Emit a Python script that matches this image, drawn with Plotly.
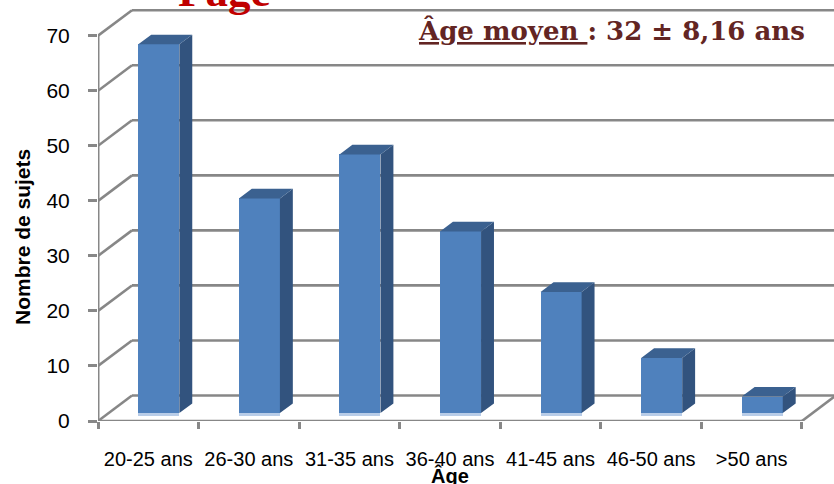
import plotly.graph_objects as go

# ---- data ----
categories = ["20-25 ans", "26-30 ans", "31-35 ans", "36-40 ans", "41-45 ans", "46-50 ans", ">50 ans"]
counts = [67, 39, 47, 33, 22, 10, 3]
y_ticks = [0, 10, 20, 30, 40, 50, 60, 70]
title_text = "Page"
mean_label = "Âge moyen "
mean_value = ": 32 ± 8,16 ans"
y_title = "Nombre de sujets"
x_title = "Âge"

# ---- pseudo-3D geometry (axis units) ----
W, H = 834, 484
ML, MR, MT, MB = 98, 0, 0, 63
px_x = 100.57          # pixels per category
px_y = 5.504           # pixels per count unit
DX = 34 / px_x         # depth offset of back wall
DY = 25.5 / px_y
D0, D1 = 0.31, 0.69    # bar depth span
BW = 0.408             # bar width
n = len(categories)
xs = list(range(n))
xmax = -0.5 + (W - ML - MR) / px_x
ymax = (H - MB - MT) / px_y
GRID = "#878787"
GW = 2.6

front_c = "#4F81BD"
side_c = "#32537E"
top_c = "#3B6190"

fig = go.Figure()

# side and top faces
side_x, side_y, top_x, top_y = [], [], [], []
b0 = D0 * DY
ddx, ddy = (D1 - D0) * DX, (D1 - D0) * DY
for i, v in zip(xs, counts):
    xl = i - BW / 2 + D0 * DX
    xr = xl + BW
    side_x += [xr, xr, xr + ddx, xr + ddx, xr, None]
    side_y += [b0, b0 + v, b0 + v + ddy, b0 + ddy, b0, None]
    top_x += [xl, xr, xr + ddx, xl + ddx, xl, None]
    top_y += [b0 + v, b0 + v, b0 + v + ddy, b0 + v + ddy, b0 + v, None]

fig.add_trace(go.Scatter(x=side_x, y=side_y, fill="toself", fillcolor=side_c,
                         mode="lines", line=dict(width=0, color=side_c),
                         hoverinfo="skip", showlegend=False))
fig.add_trace(go.Scatter(x=top_x, y=top_y, fill="toself", fillcolor=top_c,
                         mode="lines", line=dict(width=0, color=top_c),
                         hoverinfo="skip", showlegend=False))
# light bottom strip
fig.add_trace(go.Bar(x=xs, y=[0.35] * n, base=[b0 - 0.35] * n, width=BW,
                     offset=-BW / 2 + D0 * DX, marker=dict(color="#B9CDE8", line=dict(width=0)),
                     hoverinfo="skip", showlegend=False))
# front faces
fig.add_trace(go.Bar(x=xs, y=counts, base=[b0] * n, width=BW, offset=-BW / 2 + D0 * DX,
                     marker=dict(color=front_c, line=dict(width=0)), showlegend=False,
                     hovertemplate="%{x}: %{y}<extra></extra>"))

shapes = []
# back wall gridlines and left wall diagonals
for t in y_ticks:
    shapes.append(dict(type="line", xref="x", yref="y", x0=-0.5 + DX, x1=xmax + 0.2,
                       y0=t + DY, y1=t + DY, line=dict(color=GRID, width=GW), layer="below"))
    shapes.append(dict(type="line", xref="x", yref="y", x0=-0.5, x1=-0.5 + DX,
                       y0=t, y1=t + DY, line=dict(color=GRID, width=GW), layer="below"))
# front vertical axis
shapes.append(dict(type="line", xref="x", yref="y", x0=-0.5, x1=-0.5, y0=0, y1=y_ticks[-1],
                   line=dict(color=GRID, width=GW + 0.4), layer="below"))
# floor front edge and right diagonal
shapes.append(dict(type="line", xref="x", yref="y", x0=-0.5, x1=n - 0.5, y0=0, y1=0,
                   line=dict(color=GRID, width=GW), layer="below"))
shapes.append(dict(type="line", xref="x", yref="y", x0=n - 0.5, x1=n - 0.5 + DX, y0=0, y1=DY,
                   line=dict(color=GRID, width=GW), layer="below"))

annotations = [
    dict(text=f"<b>{title_text}</b>", xref="paper", yref="paper",
         x=(223.5 - ML) / (W - ML - MR), y=1, xanchor="center", yanchor="bottom", yshift=-18,
         showarrow=False, font=dict(family="Liberation Serif", size=45, color="#C00000")),
    dict(text=f"<b><u>{mean_label}</u>{mean_value}</b>", xref="paper", yref="paper",
         x=(416 - ML) / (W - ML - MR), y=(H - MB - 30) / (H - MB), xanchor="left", yanchor="middle",
         showarrow=False, font=dict(family="DejaVu Serif", size=26, color="#632523")),
    dict(text=f"<b>{y_title}</b>", xref="paper", yref="paper", x=0, xshift=22 - ML,
         y=(H - MB - 237) / (H - MB), xanchor="center", yanchor="middle", textangle=-90,
         showarrow=False, font=dict(family="Liberation Sans", size=21, color="#000000")),
    dict(text=f"<b>{x_title}</b>", xref="x", yref="paper", x=(n - 1) / 2, y=0,
         xanchor="center", yanchor="top", yshift=-(462 - (H - MB)),
         showarrow=False, font=dict(family="Liberation Sans", size=20, color="#000000")),
]

fig.update_layout(
    width=W, height=H,
    margin=dict(l=ML, r=MR, t=MT, b=MB, pad=0),
    paper_bgcolor="white", plot_bgcolor="white",
    bargap=0, barmode="overlay",
    shapes=shapes, annotations=annotations,
    xaxis=dict(range=[-0.5, xmax], tickmode="array", tickvals=xs, ticktext=categories,
               ticks="", showgrid=False, zeroline=False, showline=False,
               tickfont=dict(family="Liberation Sans", size=20, color="#000000"),
               ticklabelstandoff=24,
               minor=dict(tickmode="array", tickvals=[i - 0.5 for i in range(n + 1)],
                          ticks="outside", ticklen=7, tickwidth=GW, tickcolor=GRID, showgrid=False)),
    yaxis=dict(range=[0, ymax], tickmode="array", tickvals=y_ticks,
               ticks="outside", ticklen=9, tickwidth=GW, tickcolor=GRID,
               showgrid=False, zeroline=False, showline=False,
               tickfont=dict(family="Liberation Sans", size=21, color="#000000"),
               ticklabelstandoff=14),
    font=dict(family="Liberation Sans"),
)

fig.write_html("out.html", config={"displayModeBar": False},
               post_script="document.body.style.margin='0px';")
